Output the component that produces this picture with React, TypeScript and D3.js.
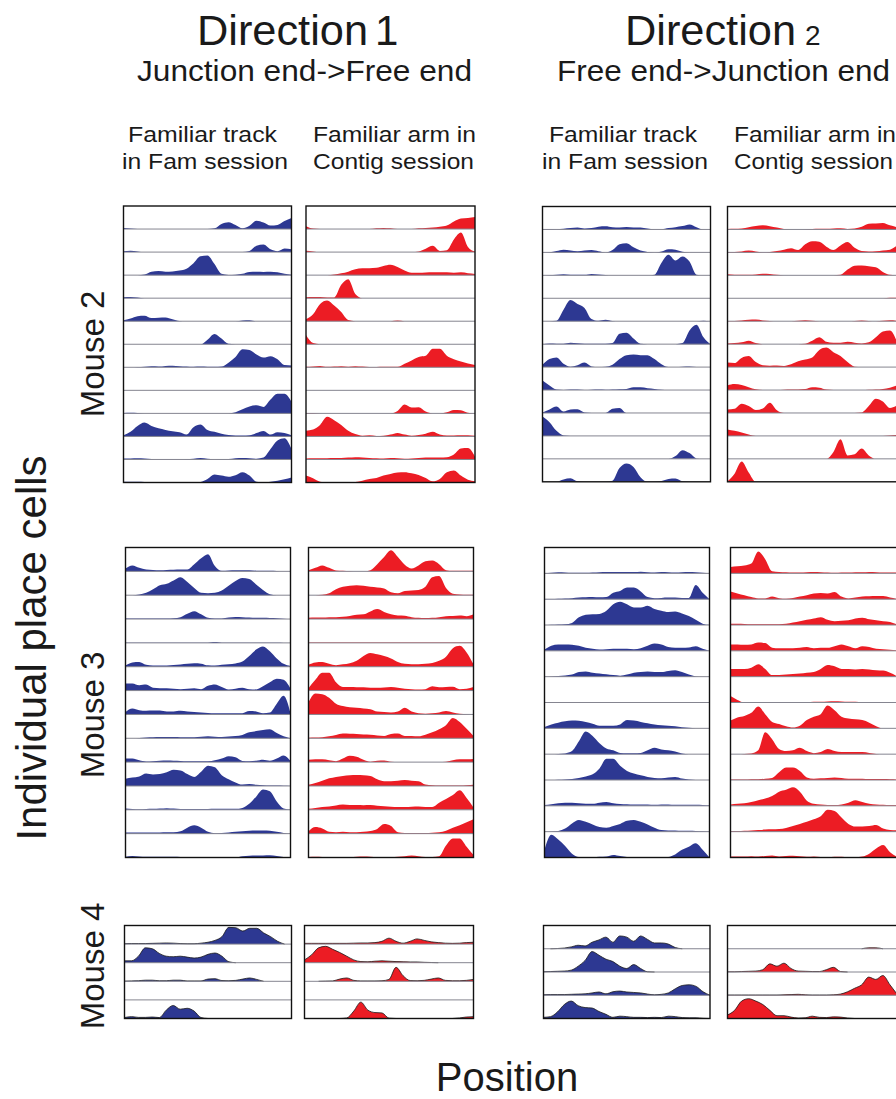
import React from 'react';
import * as d3 from 'd3';

const BLUE = '#2D3892';
const RED = '#EC1C24';

// Firing-rate profiles, % of row height, 25 positions along the track
const m2_d1_fam: number[][] = [
  [5,2,0,0,0,0,0,0,0,0, 0,0,0,3,22,30,18,3,14,36, 28,15,18,35,48],
  [4,6,3,0,0,0,0,0,0,0, 0,0,0,0,0,0,0,0,5,28, 33,12,4,16,12],
  [0,0,0,3,15,18,15,16,20,28, 52,82,85,48,6,1,2,6,14,15, 14,15,12,6,2],
  [4,5,3,0,0,0,0,0,0,0, 0,0,0,0,0,0,0,0,0,0, 0,0,0,0,0],
  [4,12,22,24,14,15,16,8,1,0, 0,0,0,0,0,0,0,3,4,0, 0,0,0,0,0],
  [0,0,0,0,0,0,0,0,0,0, 0,0,20,45,25,2,0,0,0,0, 0,0,0,0,0],
  [0,0,1,2,4,3,6,7,5,3, 2,3,2,2,3,20,45,78,75,55, 42,48,35,10,8],
  [0,0,0,0,0,0,0,0,0,0, 0,0,0,0,0,0,0,0,0,0, 0,0,0,0,0],
  [2,3,2,0,0,0,0,0,0,0, 0,0,0,0,0,0,5,18,30,35, 28,60,85,85,50],
  [5,20,45,60,45,35,28,22,18,8, 40,52,28,20,12,6,4,4,5,15, 24,8,18,15,5],
  [4,4,5,4,2,1,1,1,1,2, 3,6,3,1,2,2,5,6,5,3, 8,45,82,92,45],
  [3,3,3,2,1,0,0,0,0,0, 0,2,15,35,30,25,32,45,30,3, 0,3,8,14,22],
];
const m2_d1_con: number[][] = [
  [12,2,0,0,0,0,0,0,0,0, 3,5,3,0,0,0,3,5,7,10, 15,33,46,48,52],
  [6,3,0,0,0,0,0,0,0,0, 0,0,0,0,0,0,3,15,27,5, 8,55,85,22,2],
  [0,0,0,0,3,8,15,25,30,30, 32,40,45,35,20,10,10,11,12,12, 12,10,12,8,5],
  [4,5,5,3,3,58,82,18,0,0, 0,0,0,0,0,0,0,0,0,0, 0,0,0,0,0],
  [8,30,75,90,68,40,5,0,0,0, 0,0,0,3,0,0,0,0,0,0, 0,0,0,0,0],
  [40,5,0,0,0,0,0,0,0,0, 0,0,0,0,0,0,0,0,0,0, 0,0,0,0,0],
  [2,3,6,2,3,5,2,5,3,1, 1,2,2,2,15,30,45,50,80,80, 50,35,25,17,10],
  [0,0,0,0,0,0,0,0,0,0, 0,0,0,0,0,0,0,0,0,0, 0,0,0,0,0],
  [2,2,0,0,0,0,0,0,0,0, 0,0,0,10,38,25,27,8,0,0, 5,15,14,3,0],
  [25,30,50,85,70,50,25,10,3,5, 2,3,8,15,8,3,6,12,20,8, 4,4,5,5,3],
  [4,5,5,5,6,6,8,10,9,6, 5,4,6,5,3,4,6,8,8,9, 10,22,48,50,12],
  [30,18,3,0,0,0,0,2,8,15, 20,30,37,43,45,40,33,20,5,15, 45,52,30,12,5],
];
const m2_d2_fam: number[][] = [
  [2,2,1,3,6,8,4,6,12,14, 10,9,11,8,9,4,1,1,6,10, 15,22,10,0,0],
  [0,1,6,12,8,5,8,10,5,0, 10,35,40,22,8,2,0,4,14,12, 3,0,0,0,0],
  [0,1,3,5,2,3,2,6,4,1, 0,0,0,0,0,0,3,55,90,65, 82,60,3,0,0],
  [0,0,0,0,0,0,0,0,0,0, 0,0,0,0,0,0,0,0,0,0, 0,0,0,0,0],
  [0,0,2,50,92,75,58,10,2,6, 1,0,0,0,0,0,0,0,0,0, 0,0,0,2,0],
  [0,3,2,2,6,4,2,2,2,2, 5,45,50,25,2,0,0,0,0,0, 5,60,85,30,0],
  [10,35,42,15,2,8,20,3,0,1, 10,35,52,55,52,52,35,12,0,0, 2,3,0,0,0],
  [42,20,2,0,2,2,0,1,2,1, 2,3,5,12,12,8,5,1,0,0, 0,0,0,0,0],
  [2,15,28,6,15,16,2,0,0,0, 18,22,0,0,0,0,0,0,0,0, 0,0,0,0,0],
  [85,60,22,2,0,0,0,0,0,0, 0,0,0,0,0,0,0,0,0,0, 0,0,0,0,0],
  [0,0,0,0,0,0,0,0,0,0, 0,0,0,0,0,0,0,0,0,12, 38,25,2,0,0],
  [0,0,0,10,15,2,0,0,0,0, 5,60,80,65,20,0,0,3,12,14, 2,0,0,0,0],
];
const m2_d2_con: number[][] = [
  [2,3,4,10,15,18,14,8,2,0, 0,1,2,3,3,4,5,2,4,12, 25,26,28,18,10],
  [2,2,4,8,4,1,2,6,12,18, 10,35,48,46,25,10,30,45,20,6, 4,5,8,12,30],
  [5,3,2,2,4,7,6,2,0,0, 0,0,0,0,0,0,2,25,42,43, 40,35,15,2,0],
  [0,0,0,0,0,0,0,0,0,0, 0,0,0,0,0,0,0,0,0,0, 0,0,0,2,2],
  [1,1,3,6,7,3,1,0,0,0, 2,4,2,0,0,0,0,0,1,3, 1,0,2,4,2],
  [3,5,8,15,5,0,0,0,0,0, 0,2,15,30,10,6,6,10,6,3, 8,30,55,60,10],
  [20,18,40,48,22,8,6,7,5,12, 25,33,42,75,85,65,48,22,2,0, 0,0,0,0,0],
  [20,26,22,12,3,0,0,0,1,2, 2,4,12,10,2,0,0,0,0,0, 1,2,5,10,20],
  [15,18,40,30,13,20,45,12,0,0, 0,0,0,0,0,0,0,0,0,2, 30,62,50,22,32],
  [28,22,15,6,0,0,0,0,0,0, 0,0,0,0,0,0,0,0,0,0, 0,0,0,2,5],
  [0,0,0,0,0,0,0,0,0,0, 0,0,0,0,0,30,85,15,20,45, 15,0,0,0,0],
  [2,35,88,40,0,0,0,0,0,0, 0,0,0,0,0,0,0,0,0,0, 0,0,0,0,0],
];
const m3_d1_fam: number[][] = [
  [12,25,15,8,6,5,6,7,8,8, 30,55,72,22,2,4,5,5,5,3, 3,2,1,0,0],
  [0,0,3,10,25,42,48,62,75,55, 30,10,8,10,20,40,60,72,68,45, 22,4,0,0,0],
  [2,2,2,2,2,2,2,3,8,22, 33,20,5,2,2,6,9,8,6,5, 5,4,3,1,0],
  [1,1,1,1,1,1,1,1,1,1, 1,1,1,4,1,1,1,1,1,1, 1,1,1,0,0],
  [5,18,20,8,5,5,5,7,9,12, 15,13,6,5,8,10,14,22,45,72, 85,65,35,12,3],
  [30,30,22,25,12,10,10,8,6,8, 10,6,20,26,15,5,8,12,6,5, 18,35,50,45,8],
  [10,25,18,15,16,16,12,12,15,12, 10,8,6,5,5,5,5,5,14,12, 5,8,45,78,5],
  [0,0,1,3,4,5,5,5,4,4, 4,6,8,6,5,7,9,14,25,30, 35,38,22,8,0],
  [15,15,8,3,4,6,7,6,5,4, 4,4,4,8,15,25,20,5,4,6, 10,6,15,28,5],
  [30,35,40,52,48,50,58,68,65,50, 38,60,85,78,45,28,15,6,8,5, 3,2,2,1,0],
  [5,3,2,3,4,5,7,5,3,3, 3,3,3,4,4,4,4,8,25,55, 85,78,35,6,1],
  [5,5,5,5,5,5,6,6,10,25, 35,25,8,2,3,5,8,10,12,13, 13,12,8,3,0],
  [3,6,4,3,3,3,3,3,2,0, 0,0,0,0,0,0,0,5,7,8, 8,9,6,2,0],
];
const m3_d1_con: number[][] = [
  [5,15,25,15,4,2,1,0,0,5, 30,60,88,60,28,12,25,42,45,30, 5,2,3,3,3],
  [0,0,2,8,25,35,40,42,40,35, 32,28,12,8,18,20,22,35,75,80, 30,6,3,2,2],
  [5,6,6,7,8,10,13,18,20,32, 42,30,20,15,14,8,5,4,5,8, 12,13,15,12,20],
  [2,2,2,2,2,2,2,2,2,2, 2,2,2,2,2,2,2,2,2,2, 2,2,2,2,2],
  [8,18,20,12,6,10,15,25,45,58, 52,45,35,20,12,10,10,12,16,25, 42,78,88,60,10],
  [10,45,75,75,35,15,15,14,14,12, 12,13,15,12,8,6,5,6,18,14, 15,16,6,8,15],
  [50,88,85,70,45,35,30,28,25,22, 12,10,8,12,28,12,5,3,5,8, 14,8,3,1,0],
  [2,3,4,8,14,20,19,18,16,15, 12,10,18,20,10,9,8,15,25,38, 55,85,68,40,10],
  [10,12,12,8,4,15,27,22,10,2, 6,7,2,0,0,0,0,0,0,0, 2,8,12,12,13],
  [5,12,22,32,38,42,45,46,45,42, 28,20,20,22,25,22,20,6,3,2, 2,2,2,3,5],
  [4,8,12,14,18,22,20,20,19,20, 17,15,13,12,12,13,14,12,12,30, 45,62,82,50,10],
  [10,28,22,8,6,8,6,6,8,11, 20,40,32,6,3,3,3,3,4,6, 12,25,35,48,60],
  [2,3,2,2,2,2,2,3,4,3, 2,2,2,3,5,8,5,2,2,5, 50,80,80,45,10],
];
const m3_d2_fam: number[][] = [
  [1,2,4,3,2,2,2,3,4,5, 5,5,5,5,6,4,3,5,4,3, 4,5,4,2,0],
  [1,1,2,3,4,6,7,8,7,8, 25,32,45,45,30,8,4,5,6,6, 5,5,55,25,0],
  [0,1,2,3,8,30,40,42,43,55, 80,90,80,68,68,75,62,55,50,52, 45,35,20,5,0],
  [5,20,25,25,24,20,12,8,5,6, 8,8,8,6,10,20,28,25,15,12, 12,13,18,8,0],
  [0,1,3,5,8,18,20,15,12,9, 6,4,8,15,18,20,18,18,22,25, 18,8,1,0,0],
  [0,0,0,0,0,0,0,0,0,0, 0,0,2,0,0,0,0,0,2,0, 0,0,0,0,0],
  [5,15,22,27,30,29,25,18,10,10, 10,15,32,30,25,20,15,12,10,8, 4,2,0,0,0],
  [0,0,1,3,12,50,88,70,42,22, 15,5,4,4,5,15,25,18,15,10, 3,0,0,0,0],
  [0,0,1,2,4,8,14,22,45,82, 82,55,35,25,18,12,8,7,10,12, 6,2,0,0,0],
  [3,6,10,12,12,10,8,8,12,15, 10,7,6,5,5,5,4,5,5,4, 4,4,4,3,2],
  [0,1,3,12,32,45,38,28,18,15, 22,30,42,45,38,28,15,6,5,5, 4,4,3,2,1],
  [30,88,70,45,15,2,2,2,3,4, 10,6,2,1,0,0,0,0,2,12, 30,42,55,30,0],
];
const m3_d2_con: number[][] = [
  [25,27,30,38,85,55,8,5,4,3, 3,4,5,4,3,2,3,3,4,4, 5,4,3,3,3],
  [30,22,15,8,3,3,10,4,2,5, 10,15,22,24,22,28,10,3,6,10, 11,12,12,6,1],
  [5,5,4,3,3,3,3,3,5,10, 15,20,25,30,20,15,16,18,25,28, 22,18,15,12,2],
  [25,25,24,25,32,30,12,10,10,10, 12,15,10,12,12,18,25,18,10,18, 15,8,6,4,2],
  [30,30,30,35,48,30,6,6,8,10, 12,15,18,30,45,40,30,30,28,30, 28,25,24,15,2],
  [25,10,0,0,0,0,0,0,1,1, 2,2,3,3,4,5,4,3,3,2, 2,2,2,2,2],
  [30,42,48,60,85,55,25,17,8,3, 10,32,45,55,88,70,45,38,35,32, 22,8,0,0,0],
  [0,0,1,3,15,85,58,20,12,15, 25,12,4,8,20,12,8,8,8,8, 5,1,0,0,0],
  [2,2,2,3,3,5,8,30,48,48, 35,10,5,7,8,10,8,5,5,5, 4,4,4,3,2],
  [5,8,10,15,22,28,38,55,62,72, 55,20,8,5,3,3,5,12,22,15, 8,5,4,3,3],
  [3,3,4,5,6,8,9,10,14,22, 30,38,48,60,85,80,55,30,20,20, 22,26,12,6,5],
  [4,4,4,5,4,6,8,4,6,7, 5,3,4,2,2,3,3,2,2,4, 15,35,48,20,3],
];
const m4_d1_fam: number[][] = [
  [2,3,3,3,4,5,6,5,3,2, 2,5,10,20,40,90,88,70,85,85, 60,40,15,0,0],
  [10,10,35,80,75,50,35,32,35,30, 25,30,45,52,35,5,0,0,0,0, 0,0,0,0,0],
  [1,2,3,6,6,3,3,6,6,2, 2,2,12,14,4,3,5,12,18,10, 0,0,0,0,0],
  [0,0,0,0,0,0,0,0,0,0, 0,0,0,0,0,0,0,0,0,0, 0,0,0,0,0],
  [5,10,6,6,8,5,45,70,50,55, 40,5,0,0,0,0,0,0,0,0, 0,0,0,0,0],
];
const m4_d1_con: number[][] = [
  [4,4,4,4,4,4,4,5,6,6, 8,15,32,15,5,15,28,20,12,8, 5,4,5,8,10],
  [15,42,80,88,72,55,35,15,6,5, 8,10,8,6,5,4,4,2,1,0, 0,0,0,0,0],
  [0,0,0,1,2,12,18,5,2,2, 2,3,10,75,30,4,3,5,12,18, 5,3,3,5,10],
  [0,0,0,0,0,0,0,0,0,0, 0,0,0,0,0,0,0,0,0,0, 0,0,0,0,0],
  [0,0,0,0,0,0,3,40,88,45, 32,30,2,0,0,0,0,0,0,0, 0,0,3,8,10],
];
const m4_d2_fam: number[][] = [
  [0,0,1,3,8,15,12,28,38,50, 28,55,50,32,55,40,25,25,20,5, 0,0,0,0,0],
  [1,2,3,4,8,25,50,88,72,55, 45,25,15,32,15,1,0,0,0,0, 0,0,0,0,0],
  [2,3,3,3,4,5,6,10,14,6, 15,18,14,12,10,5,2,4,10,28, 42,45,38,15,0],
  [5,8,28,60,75,55,47,45,30,18, 5,10,8,5,5,4,5,4,10,8, 4,3,3,1,0],
];
const m4_d2_con: number[][] = [
  [0,0,0,0,0,0,0,0,0,0, 0,0,0,0,0,0,0,0,0,0, 4,4,0,0,0],
  [1,1,2,3,4,10,35,25,38,15, 4,3,2,2,10,20,2,0,0,0, 0,0,0,0,0],
  [1,1,1,1,1,1,1,1,2,3, 4,2,1,1,1,2,5,15,30,45, 78,68,85,45,5],
  [15,35,75,85,75,60,35,12,12,6, 2,3,10,5,4,7,6,2,0,0, 0,0,0,0,0],
];

const directionTitles = ['Direction', 'Direction'];
const directionNums = ['1', '2'];
const directionSubs = ['Junction end->Free end', 'Free end->Junction end'];
const columnLine1 = ['Familiar track', 'Familiar arm in'];
const columnLine2 = ['in Fam session', 'Contig session'];
const mouseLabels = ['Mouse 2', 'Mouse 3', 'Mouse 4'];

type Panel = {
  rows: number[][];
  x0: number; x1: number; y0: number; y1: number;
  color: string; outline?: boolean;
};

const PANELS: Panel[] = [
  { rows: m2_d1_fam, x0: 123.5, x1: 291.5, y0: 206, y1: 482.5, color: BLUE },
  { rows: m2_d1_con, x0: 306, x1: 475, y0: 206, y1: 482.5, color: RED },
  { rows: m2_d2_fam, x0: 542.5, x1: 710.5, y0: 206.5, y1: 481.8, color: BLUE },
  { rows: m2_d2_con, x0: 727.5, x1: 897, y0: 206.5, y1: 481.8, color: RED },
  { rows: m3_d1_fam, x0: 125.5, x1: 290.5, y0: 547.5, y1: 857.5, color: BLUE },
  { rows: m3_d1_con, x0: 308.5, x1: 473.5, y0: 547.5, y1: 857.5, color: RED },
  { rows: m3_d2_fam, x0: 544.5, x1: 709.5, y0: 547.5, y1: 857.5, color: BLUE },
  { rows: m3_d2_con, x0: 730.5, x1: 897, y0: 547.5, y1: 857.5, color: RED },
  { rows: m4_d1_fam, x0: 124.5, x1: 291.5, y0: 925.5, y1: 1018.5, color: BLUE, outline: true },
  { rows: m4_d1_con, x0: 304.5, x1: 473.5, y0: 925.5, y1: 1018.5, color: RED, outline: true },
  { rows: m4_d2_fam, x0: 543.5, x1: 710, y0: 925.5, y1: 1018.5, color: BLUE, outline: true },
  { rows: m4_d2_con, x0: 727.5, x1: 897, y0: 925.5, y1: 1018.5, color: RED, outline: true },
];

const FONT = '"Liberation Sans", Arial, Helvetica, sans-serif';

function PanelView({ p, id }: { p: Panel; id: number }) {
  const n = p.rows.length;
  const rowH = (p.y1 - p.y0) / n;
  const x = d3.scaleLinear().domain([0, p.rows[0].length - 1]).range([p.x0, p.x1]);
  const clipId = `clip-${id}`;
  return (
    <g>
      <defs>
        <clipPath id={clipId}>
          <rect x={p.x0} y={p.y0} width={p.x1 - p.x0} height={p.y1 - p.y0} />
        </clipPath>
      </defs>
      <g clipPath={`url(#${clipId})`}>
        {p.rows.map((r, i) => {
          const base = p.y0 + (i + 1) * rowH;
          const y = d3.scaleLinear().domain([0, 100]).range([base, base - rowH]);
          const area = d3.area<number>()
            .x((_, j) => x(j))
            .y0(base)
            .y1((d) => y(d))
            .curve(d3.curveMonotoneX);
          const line = d3.line<number>()
            .defined((d, j) => d > 0 || (r[j - 1] ?? 0) > 0 || (r[j + 1] ?? 0) > 0)
            .x((_, j) => x(j))
            .y((d) => y(d))
            .curve(d3.curveMonotoneX);
          return (
            <g key={i}>
              <path d={area(r) || ''} fill={p.color} />
              {p.outline && (
                <path d={line(r) || ''} fill="none" stroke="#1a1a1a" strokeWidth={0.8} />
              )}
            </g>
          );
        })}
        {p.rows.slice(0, n - 1).map((_, i) => {
          const yy = p.y0 + (i + 1) * rowH;
          return (
            <line key={`b${i}`} x1={p.x0} x2={p.x1} y1={yy} y2={yy}
              stroke="#858590" strokeWidth={1} />
          );
        })}
      </g>
      <rect x={p.x0} y={p.y0} width={p.x1 - p.x0} height={p.y1 - p.y0}
        fill="none" stroke="#111" strokeWidth={1.4} />
    </g>
  );
}

export default function App() {
  const dirX = [197, 625];
  const subX = [[137, 472], [557, 890]];
  const colText = [
    [[128, 277], [122, 288], [313, 476], [313, 474]],
    [[549, 697], [542, 708], [734, 896], [734, 893]],
  ];
  const mouseY = [354, 715, 966];
  return (
    <svg width={896} height={1099}
      style={{ position: 'absolute', left: 0, top: 0, background: '#fff' }}
      fontFamily={FONT}>
      <rect x={0} y={0} width={896} height={1099} fill="#fff" />
      {directionTitles.map((t, k) => (
        <g key={`d${k}`} fill="#1a1a1a">
          <text x={dirX[k]} y={45} fontSize={42} textLength={171} lengthAdjust="spacingAndGlyphs">
            {t}
          </text>
          <text x={dirX[k] + (k === 0 ? 178 : 180)} y={45} fontSize={k === 0 ? 42 : 28}>
            {directionNums[k]}
          </text>
          <text x={subX[k][0]} y={81} fontSize={29} textLength={subX[k][1] - subX[k][0]}
            lengthAdjust="spacingAndGlyphs">{directionSubs[k]}</text>
          {[0, 1].map((c) => (
            <g key={c}>
              <text x={colText[k][c * 2][0]} y={142} fontSize={22}
                textLength={colText[k][c * 2][1] - colText[k][c * 2][0]}
                lengthAdjust="spacingAndGlyphs">{columnLine1[c]}</text>
              <text x={colText[k][c * 2 + 1][0]} y={169} fontSize={22}
                textLength={colText[k][c * 2 + 1][1] - colText[k][c * 2 + 1][0]}
                lengthAdjust="spacingAndGlyphs">{columnLine2[c]}</text>
            </g>
          ))}
        </g>
      ))}
      {PANELS.map((p, i) => <PanelView key={i} p={p} id={i} />)}
      {mouseLabels.map((m, i) => (
        <text key={m} transform={`translate(104,${mouseY[i]}) rotate(-90)`}
          textAnchor="middle" fontSize={33} fill="#1a1a1a">{m}</text>
      ))}
      <text transform="translate(46,648) rotate(-90)" textAnchor="middle" fontSize={42}
        fill="#1a1a1a">Individual place cells</text>
      <text x={507} y={1091} textAnchor="middle" fontSize={40} fill="#1a1a1a">Position</text>
    </svg>
  );
}
